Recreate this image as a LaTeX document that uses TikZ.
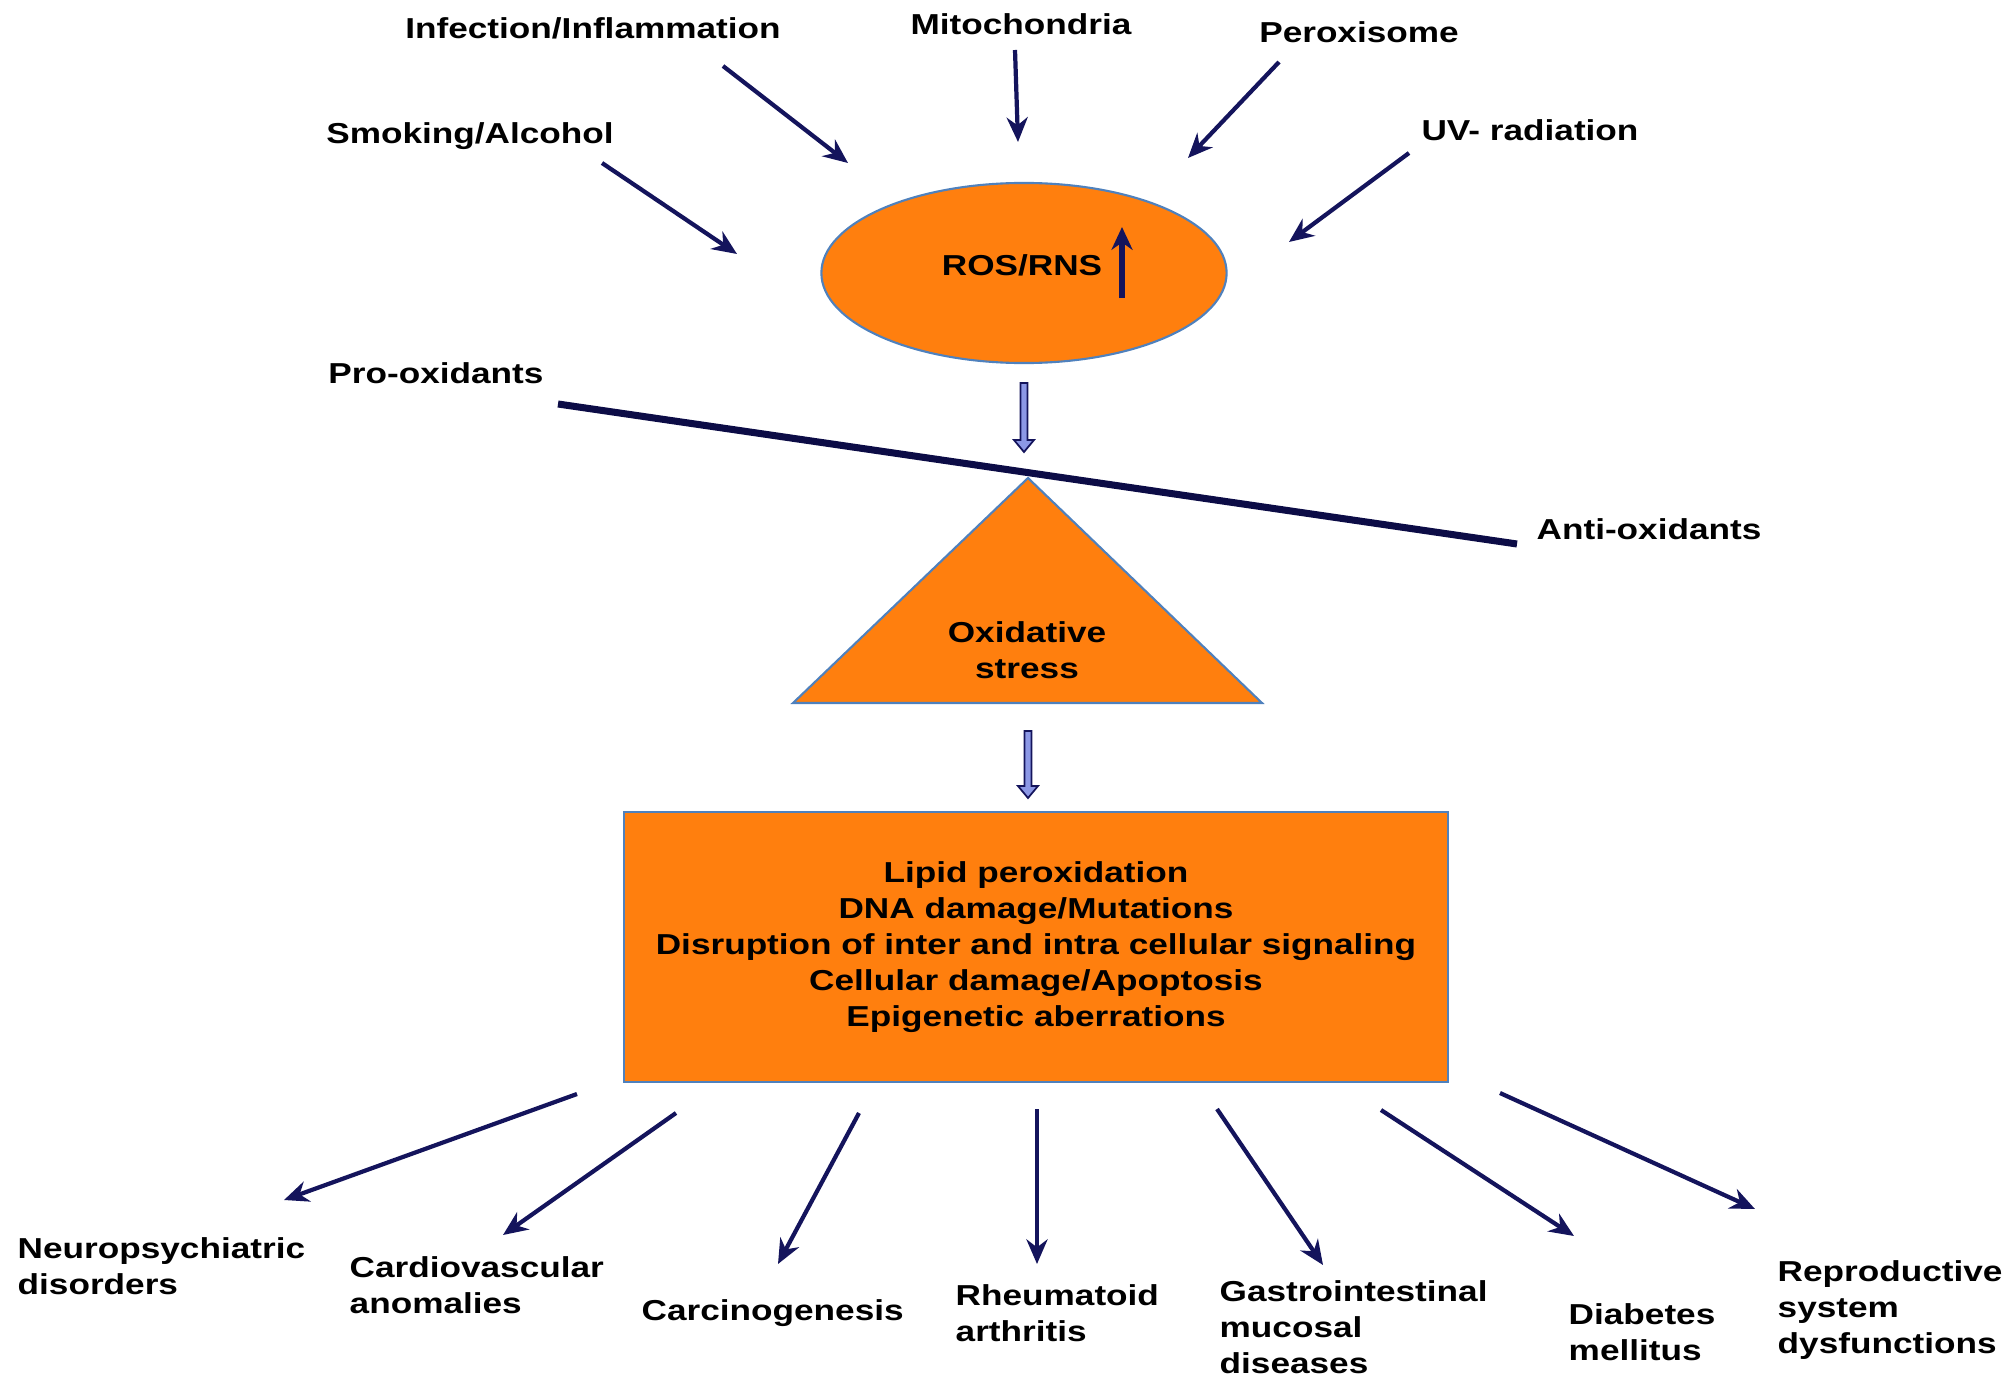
\documentclass[tikz,border=0pt]{standalone}
\usepackage{fontspec}
\setmainfont{Liberation Sans}[FakeStretch=1.22]
\usetikzlibrary{shapes.geometric,arrows.meta}
\definecolor{rosorange}{RGB}{255,127,14}
\definecolor{edgeblue}{RGB}{79,129,189}
\definecolor{arrownavy}{RGB}{20,20,92}
\definecolor{beamnavy}{RGB}{12,12,70}
\definecolor{hollowfill}{RGB}{140,152,230}
\tikzset{
    orangeshape/.style={fill=rosorange, draw=edgeblue, line width=0.6pt},
    disease/.style={align=left, anchor=west},
    inarrow/.style={arrownavy, line width=1.2pt, -{Stealth[length=7pt, width=6pt]}},
    uparrow/.style={arrownavy, line width=1.5pt, -{Stealth[length=6.5pt, width=6pt]}},
    beam/.style={beamnavy, line width=2pt},
    hollow/.style={fill=hollowfill, draw=arrownavy, line width=0.5pt},
    pics/hollowdown/.style={code={
        \filldraw[hollow] (-3.5,0) -- (-3.5,#1-12) -- (-10,#1-12) -- (0,#1)
            -- (10,#1-12) -- (3.5,#1-12) -- (3.5,0) -- cycle;
    }}
}

\begin{document}
\begin{tikzpicture}[
  x=0.01cm, y=-0.01cm,
  every node/.style={font=\fontsize{8.2pt}{10.2pt}\selectfont\bfseries, inner sep=0pt}
]
\useasboundingbox (0,0) rectangle (2012,1379);

% sources of ROS/RNS:
\node (infect) at (593,28) {Infection/Inflammation};
\node (mito) at (1021,24) {Mitochondria};
\node (perox) at (1359,32) {Peroxisome};
\node (smoking) at (470,136) {Smoking/Alcohol};
\node (uv) at (1530,130) {UV- radiation};

\foreach \src/\xa/\ya/\xb/\yb in {infect/723/66/848/163, mito/1015/50/1018/142,
    perox/1279/62/1188/158, smoking/602/163/737/254, uv/1409/153/1289/242} {
  \coordinate (\src-from) at (\xa,\ya);
  \coordinate (\src-to) at (\xb,\yb);
  \draw [inarrow] (\src-from) -- (\src-to);
}

% ROS/RNS ellipse:
\node [ellipse, orangeshape, minimum width=4.05cm, minimum height=1.80cm] (ros) at (1024,273) {};
\node (rostext) at (1022,265) {ROS/RNS};
\coordinate (rosup-from) at (1122,298);
\coordinate (rosup-to) at (1122,227);
\draw [uparrow] (rosup-from) -- (rosup-to);

\coordinate (ros-out) at (1024,383);
\pic at (ros-out) {hollowdown=69};

% balance: triangle and beam
\coordinate (tri-apex) at (1028,478);
\coordinate (tri-left) at (793,703);
\coordinate (tri-right) at (1262,703);
\filldraw [orangeshape] (tri-apex) -- (tri-right) -- (tri-left) -- cycle;
\node [align=center] (stress) at (1027,650) {Oxidative\\stress};

\coordinate (beam-l) at (558,404);
\coordinate (beam-r) at (1517,544);
\draw [beam] (beam-l) -- (beam-r);
\node (pro) at (436,373) {Pro-oxidants};
\node (anti) at (1649,529) {Anti-oxidants};

\coordinate (tri-out) at (1028,731);
\pic at (tri-out) {hollowdown=67};

% cellular damage box:
\node [orangeshape, minimum width=8.23cm, minimum height=2.70cm, align=center] (damage) at (1036,947)
  {Lipid peroxidation\\DNA damage/Mutations\\Disruption of inter and intra cellular signaling\\
   Cellular damage/Apoptosis\\Epigenetic aberrations};

% resulting diseases:
\node [disease] (neuro) at (17,1266) {Neuropsychiatric\\disorders};
\node [disease] (cardio) at (349,1285) {Cardiovascular\\anomalies};
\node [disease] (carcino) at (641,1313) {Carcinogenesis};
\node [disease] (rheum) at (955,1313) {Rheumatoid\\arthritis};
\node [disease] (gastro) at (1219,1327) {Gastrointestinal\\mucosal\\diseases};
\node [disease] (diab) at (1568,1332) {Diabetes\\mellitus};
\node [disease] (repro) at (1777,1310) {Reproductive\\system\\dysfunctions};

\foreach \dis/\xa/\ya/\xb/\yb in {neuro/577/1094/284/1200, cardio/676/1113/503/1235,
    carcino/859/1113/778/1264, rheum/1037/1109/1037/1264, gastro/1217/1109/1323/1265,
    diab/1381/1110/1574/1236, repro/1500/1093/1755/1209} {
  \coordinate (\dis-from) at (\xa,\ya);
  \coordinate (\dis-to) at (\xb,\yb);
  \draw [inarrow] (\dis-from) -- (\dis-to);
}

\end{tikzpicture}
\end{document}
